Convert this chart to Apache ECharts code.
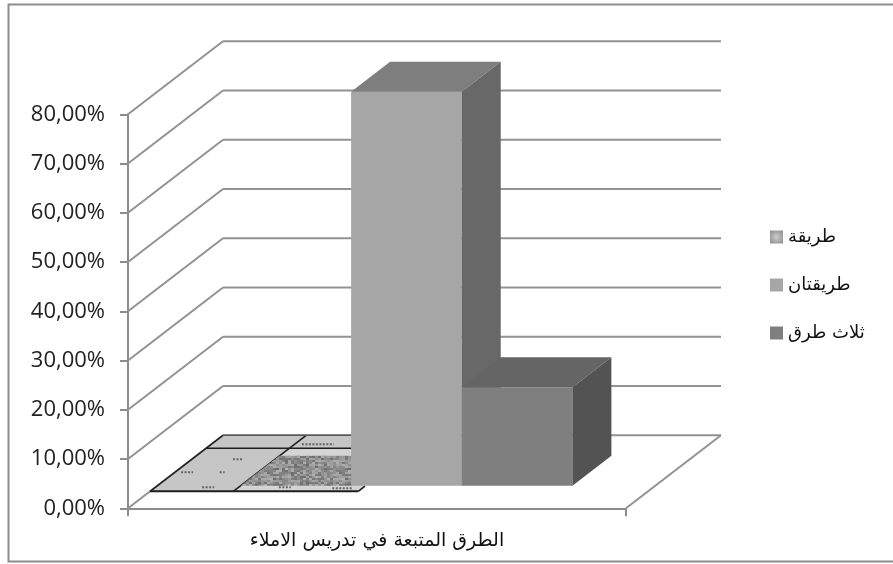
<!DOCTYPE html>
<html>
<head>
<meta charset="utf-8">
<style>html,body{margin:0;padding:0;background:#fff;overflow:hidden}#c{width:893px;height:564px}</style>
<script src="https://cdn.jsdelivr.net/npm/echarts@6/dist/echarts.min.js"></script>
</head>
<body>
<div id="c"></div>
<script>
// ---- data ----
const categories = ['الطرق المتبعة في تدريس الاملاء'];
const seriesNames = ['طريقة', 'طريقتان', 'ثلاث طرق'];
const oneMethod = [0];
const twoMethods = [80];
const threeMethods = [20];
const yTicks = [0, 10, 20, 30, 40, 50, 60, 70, 80];

// ---- oblique projection constants ----
const WALL_DX = 95, WALL_DY = 73;         // full floor depth in px
const BAR_FRONT = 0.31, BAR_BACK = 0.72;   // depth fractions of a bar
const BAR_SHARE = 1 / 4.5;                 // bar width / category width
const FACE = [
  {front: '#a0a0a0', top: '#a0a0a0', side: '#808080'},
  {front: '#a6a6a6', top: '#7e7e7e', side: '#686868'},
  {front: '#7f7f7f', top: '#656565', side: '#535353'}
];

function texture() {
  const W = 72, H = 40;
  const c = document.createElement('canvas');
  c.width = W; c.height = H;
  const g = c.getContext('2d');
  let s = 12345;
  for (let y = 0; y < H; y += 2) {
    for (let x = 0; x < W; x += 3) {
      s = (s * 1103515245 + 12345) & 0x7fffffff;
      const v = 0x6c + ((s >> 16) % 0x44);
      g.fillStyle = 'rgb(' + v + ',' + v + ',' + v + ')';
      g.fillRect(x, y, 3, 2);
    }
  }
  const o = document.createElement('canvas');
  o.width = W; o.height = H;
  const h = o.getContext('2d');
  h.fillStyle = '#8c8c8c';
  h.fillRect(0, 0, W, H);
  h.filter = 'blur(0.7px)';
  h.drawImage(c, 0, 0);
  return o;
}
const pattern = {image: texture(), repeat: 'repeat'};

const poly = (pts, fill, z) => ({type: 'polygon', shape: {points: pts}, style: {fill: fill, stroke: null}, z2: z || 0});
const seg = (a, b, color, w, dash) => ({type: 'line', shape: {x1: a[0], y1: a[1], x2: b[0], y2: b[1]}, style: {stroke: color, lineWidth: w, lineDash: dash || null}});

function project(api, xFrac, value, depth) {
  const p = api.coord([0, value]);
  const w = api.size([1, 0])[0];
  return [p[0] - w / 2 + xFrac * w + depth * WALL_DX, p[1] - depth * WALL_DY];
}

function barRenderer(index) {
  return function (params, api) {
    const v = api.value(1);
    const f0 = 0.5 + (index - 1.5) * BAR_SHARE, f1 = f0 + BAR_SHARE;
    const A = (x, val, d) => project(api, x, val, d);
    const c = FACE[index];
    const kids = [];
    if (index === 0) {
      kids.push(poly([A(f0, v, BAR_FRONT), A(f1, v, BAR_FRONT), A(f1, v, BAR_BACK), A(f0, v, BAR_BACK)], pattern));
    } else {
      kids.push(poly([A(f0, 0, BAR_FRONT), A(f1, 0, BAR_FRONT), A(f1, v, BAR_FRONT), A(f0, v, BAR_FRONT)], c.front));
      kids.push(poly([A(f0, v, BAR_FRONT), A(f1, v, BAR_FRONT), A(f1, v, BAR_BACK), A(f0, v, BAR_BACK)], c.top));
      kids.push(poly([A(f1, 0, BAR_FRONT), A(f1, 0, BAR_BACK), A(f1, v, BAR_BACK), A(f1, v, BAR_FRONT)], c.side));
    }
    return {type: 'group', children: kids};
  };
}

function wallRenderer(params, api) {
  const v = api.value(0);
  const kids = [];
  const col = '#929292';
  kids.push(seg(project(api, 0, v, 0), project(api, 0, v, 1), col, 2));
  kids.push(seg(project(api, 0, v, 1), project(api, 1, v, 1), col, 2));
  if (v === 0) kids.push(seg(project(api, 1, v, 0), project(api, 1, v, 1), col, 2));
  return {type: 'group', children: kids};
}

function tileRenderer(params, api) {
  const P = (x, d) => project(api, x, 0, d);
  const F = 0.233, M = 0.822, S = 0.167, E = 0.418, dark = '#1e1e1e';
  const kids = [
    poly([P(0, F), P(E, F), P(E, 1), P(0, 1)], '#c6c6c6'),
    poly([P(S, F), P(E, F), P(E, M), P(S, M)], '#d4d4d4'),
    seg(P(0, F), P(E, F), dark, 2),
    seg(P(0, F), P(0, 1), dark, 1.6),
    seg(P(S, F), P(S, 1), dark, 1.6),
    seg(P(0, M), P(E, M), dark, 1.6),
    seg(P(0, 1), P(E, 1), '#5a5a5a', 1.5),
    seg(P(E, F), P(E, F + 0.07), dark, 1.6)
  ];
  // faint scribbles printed on the tile: [xFrac, depth, length]
  [[0.0245, 0.493, 12], [0.106, 0.288, 12], [0.095, 0.493, 5], [0.093, 0.671, 10],
   [0.26, 0.288, 12], [0.378, 0.274, 20], [0.214, 0.877, 32], [0.268, 0.699, 12]].forEach(m => {
    const p = P(m[0], m[1]);
    kids.push(seg([p[0] - m[2] / 2, p[1]], [p[0] + m[2] / 2, p[1]], '#666', 2, [2, 1.5]));
  });
  return {type: 'group', children: kids};
}

function customBar(name, data, i, legendColor) {
  return {
    name: name, type: 'custom', renderItem: barRenderer(i),
    coordinateSystem: 'cartesian2d', silent: true, z: 5 + i,
    itemStyle: {color: legendColor},
    encode: {x: 0, y: 1},
    data: data.map((v, k) => [k, v])
  };
}

const chart = echarts.init(document.getElementById('c'), null, {renderer: 'canvas'});
chart.setOption({
  animation: false,
  backgroundColor: '#fff',
  graphic: [{type: 'rect', shape: {x: 8.5, y: 4.5, width: 900, height: 557}, style: {fill: 'none', stroke: '#8c8c8c', lineWidth: 2}, silent: true}],
  grid: {left: 128, right: 267, top: 114.3, bottom: 55.7, containLabel: false},
  legend: {
    data: seriesNames, orient: 'vertical', left: 765, top: 222, itemWidth: 13, itemHeight: 13, icon: 'rect', itemGap: 28,
    textStyle: {fontFamily: '"DejaVu Sans"', fontSize: 18, color: '#111', lineHeight: 20}
  },
  xAxis: {
    type: 'category', data: categories, boundaryGap: true,
    axisLine: {lineStyle: {color: '#8c8c8c', width: 2}},
    axisTick: {show: true, length: 8, lineStyle: {color: '#8c8c8c', width: 2}},
    axisLabel: {fontFamily: '"DejaVu Sans"', fontSize: 19, color: '#111', margin: 23}
  },
  yAxis: {
    type: 'value', min: 0, max: 80, interval: 10,
    axisLine: {show: true, lineStyle: {color: '#8c8c8c', width: 2}},
    axisTick: {show: true, length: 8, lineStyle: {color: '#8c8c8c', width: 2}},
    splitLine: {show: false},
    axisLabel: {fontFamily: '"Open Sans"', fontSize: 22, color: '#222', margin: 23,
      formatter: v => v.toFixed(2).replace('.', ',') + '%'}
  },
  series: [
    {type: 'custom', coordinateSystem: 'cartesian2d', renderItem: wallRenderer, silent: true, z: 1,
      encode: {y: 0}, data: yTicks.map(v => [v])},
    {type: 'custom', coordinateSystem: 'cartesian2d', renderItem: tileRenderer, silent: true, z: 2,
      data: [[0, 0]]},
    customBar(seriesNames[0], oneMethod, 0, {type: 'radial', x: 0.5, y: 0.5, r: 0.7, colorStops: [{offset: 0, color: '#cdcdcd'}, {offset: 1, color: '#8a8a8a'}]}),
    customBar(seriesNames[1], twoMethods, 1, '#a6a6a6'),
    customBar(seriesNames[2], threeMethods, 2, '#7f7f7f')
  ]
});
</script>
</body>
</html>
